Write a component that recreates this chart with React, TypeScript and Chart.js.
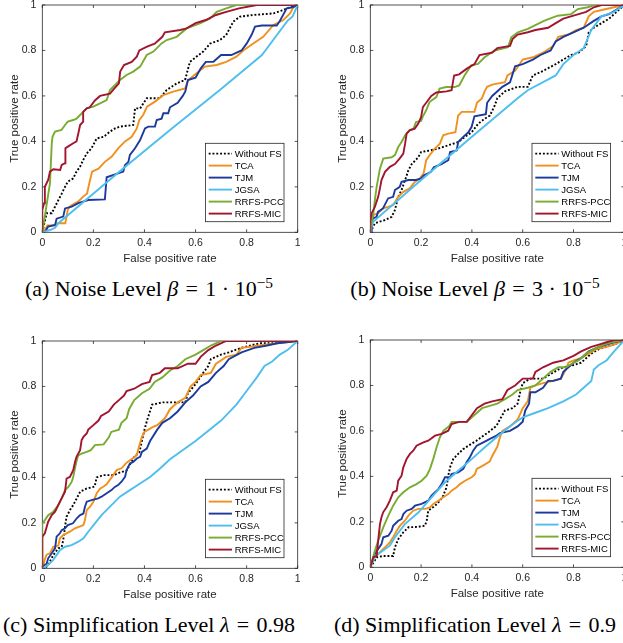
import React, { useEffect, useRef } from 'react';
import { Chart, registerables } from 'chart.js';

Chart.register(...registerables);

type Pt = [number, number];

const seriesLabels = ['Without FS', 'TCA', 'TJM', 'JGSA', 'RRFS-PCC', 'RRFS-MIC'];
const seriesColors = ['#000000', '#F0901E', '#1C3A9C', '#4DBEEE', '#77AC30', '#A2142F'];
const axisTicks = [0, 0.2, 0.4, 0.6, 0.8, 1];
const xAxisTitle = 'False positive rate';
const yAxisTitle = 'True positive rate';

// ---------- (a) Noise level 1e-5 ----------
const noiseA_withoutFS: Pt[] = [[0,0],[0.017,0.084],[0.037,0.084],[0.05,0.113],[0.063,0.142],[0.076,0.17],[0.089,0.2],[0.1,0.223],[0.121,0.237],[0.134,0.267],[0.148,0.289],[0.16,0.318],[0.174,0.347],[0.193,0.37],[0.213,0.413],[0.24,0.42],[0.265,0.443],[0.285,0.457],[0.304,0.465],[0.356,0.472],[0.363,0.545],[0.383,0.545],[0.409,0.59],[0.46,0.59],[0.487,0.626],[0.526,0.655],[0.559,0.67],[0.578,0.75],[0.604,0.773],[0.63,0.795],[0.657,0.83],[0.696,0.846],[0.72,0.868],[0.748,0.927],[0.774,0.949],[0.826,0.956],[0.905,0.963],[0.944,0.978],[0.97,0.99],[1,1]];
const noiseA_TCA: Pt[] = [[0,0],[0.01,0.01],[0.02,0.03],[0.05,0.03],[0.06,0.04],[0.09,0.04],[0.1,0.1],[0.11,0.116],[0.14,0.135],[0.16,0.157],[0.175,0.17],[0.187,0.23],[0.195,0.267],[0.22,0.28],[0.245,0.31],[0.272,0.333],[0.298,0.37],[0.324,0.4],[0.35,0.42],[0.37,0.457],[0.38,0.494],[0.395,0.516],[0.41,0.553],[0.441,0.575],[0.474,0.604],[0.513,0.619],[0.559,0.633],[0.572,0.67],[0.604,0.7],[0.637,0.729],[0.683,0.736],[0.72,0.75],[0.76,0.773],[0.787,0.8],[0.826,0.831],[0.865,0.86],[0.905,0.912],[0.944,0.934],[0.97,0.963],[0.983,0.99],[1,1]];
const noiseA_TJM: Pt[] = [[0,0],[0.01,0],[0.023,0.025],[0.05,0.032],[0.056,0.06],[0.082,0.069],[0.089,0.105],[0.115,0.113],[0.141,0.128],[0.18,0.142],[0.245,0.145],[0.252,0.242],[0.317,0.267],[0.324,0.296],[0.337,0.31],[0.343,0.34],[0.363,0.37],[0.383,0.406],[0.402,0.457],[0.415,0.465],[0.441,0.465],[0.448,0.494],[0.467,0.5],[0.474,0.524],[0.493,0.524],[0.5,0.55],[0.53,0.57],[0.55,0.6],[0.56,0.62],[0.57,0.67],[0.6,0.68],[0.62,0.72],[0.64,0.75],[0.67,0.75],[0.7,0.78],[0.74,0.78],[0.78,0.8],[0.8,0.83],[0.82,0.87],[0.833,0.905],[0.86,0.91],[0.918,0.91],[0.93,0.93],[0.957,0.985],[0.98,0.99],[1,1]];
const noiseA_JGSA: Pt[] = [[0,0],[0.03,0.01],[0.05,0.02],[0.063,0.04],[0.3,0.265],[0.5,0.45],[0.7,0.63],[0.86,0.78],[0.92,0.87],[0.96,0.93],[0.98,0.95],[1,1]];
const noiseA_PCC: Pt[] = [[0,0],[0.03,0.215],[0.037,0.39],[0.04,0.42],[0.05,0.443],[0.075,0.45],[0.089,0.472],[0.1,0.487],[0.121,0.494],[0.134,0.5],[0.148,0.516],[0.16,0.53],[0.174,0.545],[0.2,0.553],[0.226,0.567],[0.252,0.582],[0.265,0.626],[0.285,0.648],[0.304,0.67],[0.33,0.692],[0.356,0.707],[0.383,0.729],[0.409,0.78],[0.435,0.795],[0.467,0.831],[0.487,0.846],[0.526,0.86],[0.565,0.897],[0.617,0.919],[0.657,0.941],[0.683,0.97],[0.72,0.985],[0.76,1],[1,1]];
const noiseA_MIC: Pt[] = [[0,0],[0,0.098],[0.007,0.128],[0.01,0.2],[0.023,0.23],[0.03,0.267],[0.043,0.277],[0.07,0.274],[0.076,0.296],[0.089,0.304],[0.089,0.34],[0.092,0.37],[0.1,0.377],[0.121,0.392],[0.134,0.4],[0.141,0.435],[0.148,0.472],[0.16,0.487],[0.16,0.53],[0.174,0.545],[0.186,0.55],[0.206,0.58],[0.226,0.6],[0.265,0.61],[0.28,0.63],[0.3,0.655],[0.305,0.707],[0.32,0.736],[0.35,0.75],[0.37,0.773],[0.38,0.8],[0.41,0.817],[0.44,0.83],[0.47,0.86],[0.48,0.88],[0.54,0.89],[0.565,0.897],[0.6,0.92],[0.64,0.934],[0.68,0.956],[0.72,0.97],[0.77,0.985],[0.84,1],[1,1]];

// ---------- (b) Noise level 3e-5 ----------
const noiseB_withoutFS: Pt[] = [[0,0],[0.005,0.01],[0.018,0.04],[0.058,0.054],[0.084,0.068],[0.097,0.098],[0.11,0.156],[0.123,0.186],[0.137,0.23],[0.15,0.273],[0.163,0.3],[0.189,0.33],[0.2,0.353],[0.234,0.36],[0.266,0.368],[0.307,0.383],[0.346,0.397],[0.373,0.42],[0.399,0.44],[0.425,0.478],[0.451,0.5],[0.471,0.514],[0.49,0.558],[0.5,0.59],[0.53,0.62],[0.58,0.64],[0.62,0.64],[0.64,0.69],[0.68,0.71],[0.73,0.74],[0.76,0.76],[0.79,0.78],[0.82,0.79],[0.85,0.82],[0.86,0.88],[0.88,0.9],[0.91,0.92],[0.94,0.94],[0.97,0.97],[1,1]];
const noiseB_TCA: Pt[] = [[0,0],[0.005,0.015],[0.012,0.076],[0.03,0.083],[0.05,0.105],[0.07,0.112],[0.09,0.12],[0.11,0.156],[0.13,0.178],[0.155,0.193],[0.175,0.222],[0.195,0.237],[0.21,0.26],[0.22,0.317],[0.234,0.34],[0.254,0.368],[0.274,0.39],[0.287,0.427],[0.307,0.434],[0.335,0.44],[0.346,0.514],[0.36,0.53],[0.41,0.53],[0.42,0.57],[0.44,0.59],[0.45,0.62],[0.46,0.64],[0.48,0.65],[0.53,0.66],[0.54,0.69],[0.57,0.71],[0.6,0.76],[0.64,0.77],[0.68,0.79],[0.72,0.82],[0.74,0.86],[0.78,0.87],[0.81,0.89],[0.84,0.9],[0.86,0.95],[0.88,0.97],[0.92,0.98],[0.96,0.99],[1,1]];
const noiseB_TJM: Pt[] = [[0,0],[0.005,0],[0.008,0.06],[0.025,0.068],[0.03,0.09],[0.05,0.105],[0.07,0.149],[0.09,0.156],[0.097,0.186],[0.116,0.2],[0.123,0.222],[0.15,0.23],[0.18,0.23],[0.2,0.237],[0.21,0.25],[0.239,0.266],[0.25,0.286],[0.28,0.3],[0.307,0.317],[0.314,0.353],[0.34,0.36],[0.346,0.397],[0.366,0.42],[0.386,0.44],[0.399,0.464],[0.41,0.51],[0.455,0.52],[0.46,0.57],[0.48,0.6],[0.52,0.64],[0.55,0.66],[0.57,0.73],[0.6,0.74],[0.64,0.76],[0.67,0.78],[0.71,0.8],[0.73,0.84],[0.76,0.86],[0.8,0.88],[0.84,0.9],[0.88,0.93],[0.91,0.95],[0.94,0.96],[0.97,0.98],[1,1]];
const noiseB_JGSA: Pt[] = [[0,0],[0.01,0.045],[0.2,0.23],[0.4,0.42],[0.58,0.59],[0.62,0.625],[0.73,0.69],[0.76,0.74],[0.8,0.78],[0.84,0.81],[0.87,0.89],[0.91,0.95],[0.96,0.97],[1,1]];
const noiseB_PCC: Pt[] = [[0,0],[0,0.015],[0.012,0.083],[0.018,0.142],[0.025,0.2],[0.038,0.28],[0.051,0.324],[0.084,0.33],[0.097,0.34],[0.11,0.375],[0.123,0.397],[0.137,0.427],[0.155,0.45],[0.17,0.456],[0.18,0.485],[0.2,0.49],[0.207,0.51],[0.22,0.537],[0.233,0.573],[0.26,0.595],[0.273,0.632],[0.299,0.639],[0.332,0.639],[0.35,0.646],[0.371,0.69],[0.397,0.734],[0.424,0.741],[0.45,0.77],[0.489,0.8],[0.542,0.814],[0.555,0.858],[0.581,0.88],[0.62,0.895],[0.66,0.917],[0.686,0.931],[0.738,0.953],[0.791,0.96],[0.817,0.982],[0.856,0.99],[0.883,1],[1,1]];
const noiseB_MIC: Pt[] = [[0,0],[0,0.05],[0.005,0.083],[0.018,0.112],[0.031,0.156],[0.038,0.193],[0.044,0.23],[0.058,0.266],[0.077,0.288],[0.097,0.3],[0.116,0.325],[0.13,0.346],[0.137,0.39],[0.143,0.434],[0.155,0.449],[0.175,0.456],[0.189,0.478],[0.2,0.507],[0.207,0.551],[0.22,0.57],[0.24,0.6],[0.26,0.615],[0.3,0.62],[0.32,0.625],[0.33,0.69],[0.35,0.695],[0.38,0.72],[0.41,0.74],[0.43,0.78],[0.48,0.79],[0.5,0.81],[0.55,0.82],[0.56,0.85],[0.58,0.87],[0.62,0.88],[0.65,0.89],[0.7,0.9],[0.73,0.92],[0.76,0.94],[0.79,0.95],[0.82,0.96],[0.85,0.97],[0.88,0.99],[0.91,1],[1,1]];

// ---------- (c) Simplification level 0.98 ----------
const simpC_withoutFS: Pt[] = [[0,0],[0.01,0],[0.023,0.015],[0.03,0.03],[0.043,0.058],[0.063,0.088],[0.076,0.095],[0.082,0.124],[0.089,0.183],[0.095,0.227],[0.108,0.256],[0.121,0.278],[0.135,0.308],[0.148,0.337],[0.174,0.351],[0.2,0.358],[0.205,0.36],[0.213,0.4],[0.24,0.41],[0.28,0.41],[0.3,0.42],[0.33,0.43],[0.34,0.45],[0.36,0.49],[0.38,0.51],[0.4,0.61],[0.41,0.65],[0.43,0.72],[0.47,0.73],[0.56,0.73],[0.57,0.77],[0.6,0.81],[0.63,0.86],[0.65,0.89],[0.66,0.92],[0.7,0.94],[0.73,0.95],[0.78,0.97],[0.85,0.99],[0.9,0.99],[1,1]];
const simpC_TCA: Pt[] = [[0,0],[0.003,0.01],[0.01,0.04],[0.017,0.06],[0.03,0.066],[0.043,0.095],[0.063,0.1],[0.069,0.132],[0.082,0.146],[0.108,0.161],[0.128,0.176],[0.161,0.19],[0.167,0.212],[0.174,0.256],[0.187,0.271],[0.2,0.293],[0.213,0.33],[0.226,0.35],[0.24,0.36],[0.252,0.37],[0.265,0.39],[0.278,0.41],[0.291,0.432],[0.31,0.44],[0.33,0.465],[0.356,0.485],[0.37,0.498],[0.38,0.54],[0.39,0.578],[0.4,0.6],[0.43,0.62],[0.45,0.63],[0.48,0.66],[0.5,0.7],[0.53,0.73],[0.56,0.75],[0.58,0.8],[0.6,0.82],[0.62,0.85],[0.66,0.86],[0.68,0.9],[0.72,0.93],[0.76,0.94],[0.78,0.97],[0.85,0.98],[0.92,0.99],[1,1]];
const simpC_TJM: Pt[] = [[0,0],[0.003,0.01],[0.017,0.02],[0.023,0.044],[0.037,0.066],[0.05,0.088],[0.056,0.139],[0.069,0.154],[0.076,0.168],[0.089,0.176],[0.1,0.19],[0.12,0.198],[0.135,0.22],[0.148,0.234],[0.161,0.241],[0.167,0.271],[0.174,0.293],[0.193,0.3],[0.219,0.308],[0.232,0.315],[0.252,0.33],[0.271,0.344],[0.284,0.358],[0.297,0.366],[0.31,0.381],[0.324,0.402],[0.33,0.432],[0.343,0.461],[0.356,0.468],[0.37,0.483],[0.383,0.49],[0.39,0.512],[0.409,0.527],[0.422,0.56],[0.45,0.61],[0.47,0.64],[0.5,0.66],[0.53,0.69],[0.56,0.73],[0.59,0.76],[0.62,0.8],[0.65,0.82],[0.68,0.86],[0.71,0.89],[0.73,0.92],[0.78,0.95],[0.83,0.97],[0.88,0.98],[0.92,0.99],[1,1]];
const simpC_JGSA: Pt[] = [[0,0],[0.023,0.015],[0.043,0.037],[0.056,0.058],[0.069,0.08],[0.089,0.095],[0.115,0.102],[0.141,0.117],[0.161,0.132],[0.18,0.161],[0.206,0.198],[0.232,0.234],[0.265,0.271],[0.304,0.315],[0.343,0.344],[0.383,0.373],[0.422,0.402],[0.461,0.439],[0.5,0.48],[0.6,0.56],[0.7,0.65],[0.76,0.72],[0.8,0.78],[0.84,0.84],[0.87,0.89],[0.9,0.91],[0.93,0.94],[0.96,0.96],[1,1]];
const simpC_PCC: Pt[] = [[0,0],[0,0.198],[0.01,0.212],[0.023,0.234],[0.043,0.249],[0.063,0.278],[0.076,0.308],[0.089,0.344],[0.102,0.358],[0.115,0.38],[0.121,0.402],[0.128,0.44],[0.135,0.476],[0.141,0.497],[0.154,0.505],[0.174,0.512],[0.19,0.52],[0.206,0.542],[0.24,0.545],[0.26,0.575],[0.27,0.6],[0.3,0.61],[0.31,0.64],[0.33,0.66],[0.34,0.7],[0.36,0.74],[0.39,0.77],[0.42,0.79],[0.44,0.82],[0.47,0.84],[0.5,0.87],[0.53,0.89],[0.56,0.92],[0.6,0.94],[0.63,0.96],[0.66,0.98],[0.7,1],[1,1]];
const simpC_MIC: Pt[] = [[0,0],[0,0.139],[0.01,0.154],[0.023,0.205],[0.037,0.234],[0.05,0.249],[0.056,0.263],[0.069,0.293],[0.089,0.337],[0.095,0.395],[0.108,0.402],[0.121,0.432],[0.128,0.468],[0.134,0.49],[0.148,0.52],[0.154,0.564],[0.161,0.578],[0.174,0.593],[0.18,0.61],[0.2,0.63],[0.22,0.65],[0.23,0.67],[0.26,0.69],[0.28,0.72],[0.3,0.74],[0.32,0.76],[0.33,0.78],[0.36,0.79],[0.39,0.81],[0.42,0.82],[0.43,0.85],[0.46,0.86],[0.48,0.88],[0.53,0.88],[0.57,0.9],[0.6,0.9],[0.62,0.93],[0.65,0.96],[0.68,0.98],[0.72,1],[1,1]];

// ---------- (d) Simplification level 0.9 ----------
const simpD_withoutFS: Pt[] = [[0,0],[0.012,0.02],[0.025,0.044],[0.051,0.05],[0.09,0.05],[0.097,0.088],[0.11,0.124],[0.13,0.154],[0.15,0.176],[0.189,0.178],[0.215,0.183],[0.222,0.205],[0.228,0.249],[0.255,0.271],[0.274,0.293],[0.287,0.315],[0.3,0.352],[0.307,0.403],[0.314,0.44],[0.327,0.477],[0.346,0.499],[0.366,0.52],[0.386,0.535],[0.418,0.557],[0.445,0.579],[0.465,0.594],[0.497,0.623],[0.51,0.65],[0.53,0.69],[0.56,0.7],[0.58,0.72],[0.59,0.77],[0.6,0.81],[0.63,0.83],[0.68,0.83],[0.71,0.85],[0.74,0.87],[0.76,0.88],[0.8,0.89],[0.83,0.9],[0.87,0.94],[0.9,0.96],[0.93,0.97],[0.96,0.98],[1,1]];
const simpD_TCA: Pt[] = [[0,0],[0.005,0.015],[0.018,0.044],[0.038,0.066],[0.058,0.088],[0.077,0.11],[0.09,0.132],[0.104,0.161],[0.117,0.183],[0.136,0.205],[0.15,0.227],[0.169,0.249],[0.189,0.257],[0.215,0.257],[0.235,0.264],[0.248,0.279],[0.268,0.293],[0.287,0.308],[0.307,0.322],[0.32,0.337],[0.34,0.352],[0.353,0.366],[0.373,0.381],[0.399,0.396],[0.412,0.41],[0.419,0.433],[0.44,0.445],[0.47,0.465],[0.48,0.49],[0.5,0.53],[0.51,0.57],[0.52,0.6],[0.55,0.62],[0.58,0.65],[0.6,0.7],[0.62,0.73],[0.63,0.79],[0.65,0.8],[0.68,0.81],[0.72,0.82],[0.75,0.83],[0.77,0.87],[0.78,0.9],[0.8,0.91],[0.83,0.92],[0.86,0.94],[0.89,0.96],[0.93,0.97],[0.96,0.98],[1,1]];
const simpD_TJM: Pt[] = [[0,0],[0.012,0.037],[0.018,0.059],[0.031,0.081],[0.044,0.102],[0.051,0.132],[0.071,0.139],[0.084,0.161],[0.09,0.183],[0.11,0.205],[0.123,0.212],[0.13,0.234],[0.143,0.249],[0.163,0.257],[0.176,0.271],[0.202,0.279],[0.228,0.293],[0.241,0.315],[0.255,0.33],[0.268,0.344],[0.281,0.366],[0.294,0.396],[0.314,0.396],[0.32,0.41],[0.346,0.418],[0.366,0.433],[0.379,0.462],[0.392,0.484],[0.405,0.513],[0.419,0.535],[0.445,0.55],[0.471,0.565],[0.497,0.579],[0.51,0.59],[0.55,0.6],[0.58,0.62],[0.6,0.64],[0.61,0.69],[0.625,0.72],[0.63,0.77],[0.65,0.77],[0.68,0.79],[0.7,0.82],[0.72,0.82],[0.75,0.83],[0.76,0.86],[0.78,0.88],[0.8,0.9],[0.83,0.92],[0.86,0.95],[0.9,0.97],[0.93,0.98],[0.96,0.99],[1,1]];
const simpD_JGSA: Pt[] = [[0,0],[0.012,0.03],[0.02,0.05],[0.077,0.095],[0.097,0.132],[0.136,0.19],[0.189,0.241],[0.241,0.308],[0.294,0.374],[0.346,0.425],[0.399,0.476],[0.451,0.528],[0.504,0.579],[0.555,0.625],[0.6,0.66],[0.65,0.68],[0.7,0.7],[0.76,0.73],[0.81,0.76],[0.84,0.79],[0.87,0.82],[0.88,0.87],[0.9,0.89],[0.93,0.91],[0.96,0.95],[1,1]];
const simpD_PCC: Pt[] = [[0,0],[0.018,0.073],[0.031,0.117],[0.051,0.176],[0.071,0.227],[0.09,0.271],[0.11,0.308],[0.13,0.33],[0.156,0.352],[0.182,0.366],[0.202,0.381],[0.222,0.403],[0.235,0.433],[0.248,0.477],[0.261,0.528],[0.274,0.572],[0.288,0.601],[0.31,0.62],[0.32,0.64],[0.38,0.64],[0.4,0.66],[0.42,0.68],[0.44,0.7],[0.47,0.71],[0.5,0.72],[0.53,0.74],[0.56,0.76],[0.58,0.78],[0.62,0.79],[0.65,0.8],[0.68,0.83],[0.71,0.86],[0.74,0.88],[0.77,0.88],[0.8,0.9],[0.82,0.91],[0.85,0.94],[0.88,0.96],[0.92,0.98],[0.95,0.99],[1,1]];
const simpD_MIC: Pt[] = [[0,0],[0.012,0.044],[0.025,0.05],[0.031,0.117],[0.038,0.19],[0.044,0.22],[0.051,0.243],[0.064,0.264],[0.077,0.293],[0.09,0.33],[0.104,0.337],[0.11,0.381],[0.123,0.403],[0.13,0.44],[0.143,0.477],[0.156,0.499],[0.169,0.513],[0.182,0.535],[0.209,0.55],[0.228,0.557],[0.255,0.579],[0.281,0.587],[0.307,0.601],[0.32,0.63],[0.35,0.64],[0.38,0.64],[0.4,0.67],[0.42,0.7],[0.45,0.72],[0.48,0.73],[0.52,0.74],[0.54,0.78],[0.57,0.8],[0.6,0.83],[0.64,0.83],[0.65,0.86],[0.68,0.88],[0.72,0.9],[0.76,0.91],[0.8,0.93],[0.83,0.95],[0.87,0.97],[0.9,0.98],[0.93,0.99],[0.96,1],[1,1]];

const panelA = [noiseA_withoutFS, noiseA_TCA, noiseA_TJM, noiseA_JGSA, noiseA_PCC, noiseA_MIC];
const panelB = [noiseB_withoutFS, noiseB_TCA, noiseB_TJM, noiseB_JGSA, noiseB_PCC, noiseB_MIC];
const panelC = [simpC_withoutFS, simpC_TCA, simpC_TJM, simpC_JGSA, simpC_PCC, simpC_MIC];
const panelD = [simpD_withoutFS, simpD_TCA, simpD_TJM, simpD_JGSA, simpD_PCC, simpD_MIC];

const SANS = '"Liberation Sans", Arial, Helvetica, sans-serif';
const SERIF = '"Liberation Serif", "Times New Roman", Times, serif';
const AXIS_COLOR = '#262626';

const CW = 311;
const CH = 270;
const PLOT_LEFT = 42.3;
const PLOT_TOP = 5;
const PLOT_BOTTOM = 232.3;

const matlabPlugin = {
  id: 'matlabAxes',
  beforeDatasetsDraw(chart: any) {
    const { ctx, chartArea, scales } = chart;
    const { left, right, top, bottom } = chartArea;
    ctx.save();
    ctx.strokeStyle = AXIS_COLOR;
    ctx.lineWidth = 0.8;
    ctx.setLineDash([]);
    ctx.strokeRect(left, top, right - left, bottom - top);
    const tl = 3;
    ctx.beginPath();
    for (const t of axisTicks) {
      const px = scales.x.getPixelForValue(t);
      ctx.moveTo(px, bottom); ctx.lineTo(px, bottom - tl);
      ctx.moveTo(px, top); ctx.lineTo(px, top + tl);
      const py = scales.y.getPixelForValue(t);
      ctx.moveTo(left, py); ctx.lineTo(left + tl, py);
      ctx.moveTo(right, py); ctx.lineTo(right - tl, py);
    }
    ctx.stroke();
    ctx.restore();
  },
  afterDraw(chart: any) {
    const { ctx, chartArea } = chart;
    const w = 78.6, h = 78.4;
    const bx = chartArea.right - 13.7 - w;
    const by = chartArea.bottom - 10.6 - h;
    ctx.save();
    ctx.fillStyle = '#ffffff';
    ctx.fillRect(bx, by, w, h);
    ctx.strokeStyle = AXIS_COLOR;
    ctx.lineWidth = 0.8;
    ctx.setLineDash([]);
    ctx.strokeRect(bx, by, w, h);
    ctx.font = `9.5px ${SANS}`;
    ctx.textBaseline = 'middle';
    chart.data.datasets.forEach((ds: any, i: number) => {
      const yy = by + 10.3 + i * 12;
      ctx.strokeStyle = ds.borderColor;
      ctx.lineWidth = ds.borderWidth;
      ctx.setLineDash(ds.borderDash || []);
      ctx.beginPath();
      ctx.moveTo(bx + 3.3, yy);
      ctx.lineTo(bx + 26.6, yy);
      ctx.stroke();
      ctx.setLineDash([]);
      ctx.fillStyle = '#000000';
      ctx.fillText(ds.label, bx + 29.3, yy + 0.5);
    });
    ctx.restore();
  },
};

function RocPanel({ series, left, top, padRight }: { series: Pt[][]; left: number; top: number; padRight: number }) {
  const ref = useRef<HTMLCanvasElement>(null);
  useEffect(() => {
    if (!ref.current) return;
    const chart = new Chart(ref.current, {
      type: 'line',
      data: {
        datasets: series.map((pts, i) => ({
          label: seriesLabels[i],
          data: pts.map(([x, y]) => ({ x, y })),
          borderColor: seriesColors[i],
          backgroundColor: seriesColors[i],
          borderWidth: 1.9,
          borderDash: i === 0 ? [1.9, 1.9] : [],
          pointRadius: 0,
          tension: 0,
          fill: false,
          order: seriesLabels.length - i,
        })),
      },
      options: {
        animation: false,
        responsive: false,
        devicePixelRatio: 1,
        layout: { padding: { top: PLOT_TOP, right: padRight, bottom: 0, left: 0 } },
        plugins: { legend: { display: false }, tooltip: { enabled: false } },
        scales: {
          x: {
            type: 'linear',
            min: 0,
            max: 1,
            afterBuildTicks: (s: any) => { s.ticks = axisTicks.map((v) => ({ value: v })); },
            afterFit: (s: any) => { s.height = CH - PLOT_BOTTOM; s.paddingLeft = 0; s.paddingRight = 0; },
            grid: { display: false, drawTicks: false },
            border: { display: false },
            ticks: { padding: 5, color: AXIS_COLOR, font: { family: SANS, size: 10.5 }, maxRotation: 0, callback: (v: any) => String(v) },
            title: { display: true, text: xAxisTitle, color: AXIS_COLOR, font: { family: SANS, size: 11.5 }, padding: { top: 0, bottom: 4 } },
          },
          y: {
            type: 'linear',
            min: 0,
            max: 1,
            afterBuildTicks: (s: any) => { s.ticks = axisTicks.map((v) => ({ value: v })); },
            afterFit: (s: any) => { s.width = PLOT_LEFT; s.paddingTop = 0; s.paddingBottom = 0; },
            grid: { display: false, drawTicks: false },
            border: { display: false },
            ticks: { padding: 6, color: AXIS_COLOR, font: { family: SANS, size: 10.5 }, callback: (v: any) => String(v) },
            title: { display: true, text: yAxisTitle, color: AXIS_COLOR, font: { family: SANS, size: 11.5 }, padding: { top: 8, bottom: 0 } },
          },
        },
      },
      plugins: [matlabPlugin],
    } as any);
    return () => chart.destroy();
  }, [series, padRight]);
  return (
    <canvas
      ref={ref}
      width={CW}
      height={CH}
      style={{ position: 'absolute', left, top, width: CW, height: CH, display: 'block' }}
    />
  );
}

function Caption({ center, top, children }: { center: number; top: number; children: React.ReactNode }) {
  return (
    <div
      style={{
        position: 'absolute',
        left: center - 200,
        top,
        width: 400,
        textAlign: 'center',
        fontFamily: SERIF,
        fontSize: 22,
        lineHeight: '22px',
        whiteSpace: 'nowrap',
        color: '#000',
      }}
    >
      {children}
    </div>
  );
}

const Sup = ({ children }: { children: React.ReactNode }) => (
  <span style={{ fontSize: '0.7em', position: 'relative', top: '-0.5em' }}>{children}</span>
);

const EQ = '\u2004=\u2004';
const DOT = '\u2005·\u2005';

export default function App() {
  return (
    <div style={{ position: 'absolute', left: 0, top: 0, width: 623, height: 643, overflow: 'hidden', background: '#fff' }}>
      <RocPanel series={panelA} left={0} top={0} padRight={13.3} />
      <RocPanel series={panelB} left={327.7} top={0} padRight={14.7} />
      <RocPanel series={panelC} left={0} top={336} padRight={13.3} />
      <RocPanel series={panelD} left={327.7} top={334.5} padRight={14.7} />
      <Caption center={149} top={278}>
        (a) Noise Level <i>β</i>{EQ}1{DOT}10<Sup>−5</Sup>
      </Caption>
      <Caption center={475} top={278}>
        (b) Noise Level <i>β</i>{EQ}3{DOT}10<Sup>−5</Sup>
      </Caption>
      <Caption center={149} top={614}>
        (c) Simplification Level <i>λ</i>{EQ}0.98
      </Caption>
      <Caption center={475} top={614}>
        (d) Simplification Level <i>λ</i>{EQ}0.9
      </Caption>
    </div>
  );
}
